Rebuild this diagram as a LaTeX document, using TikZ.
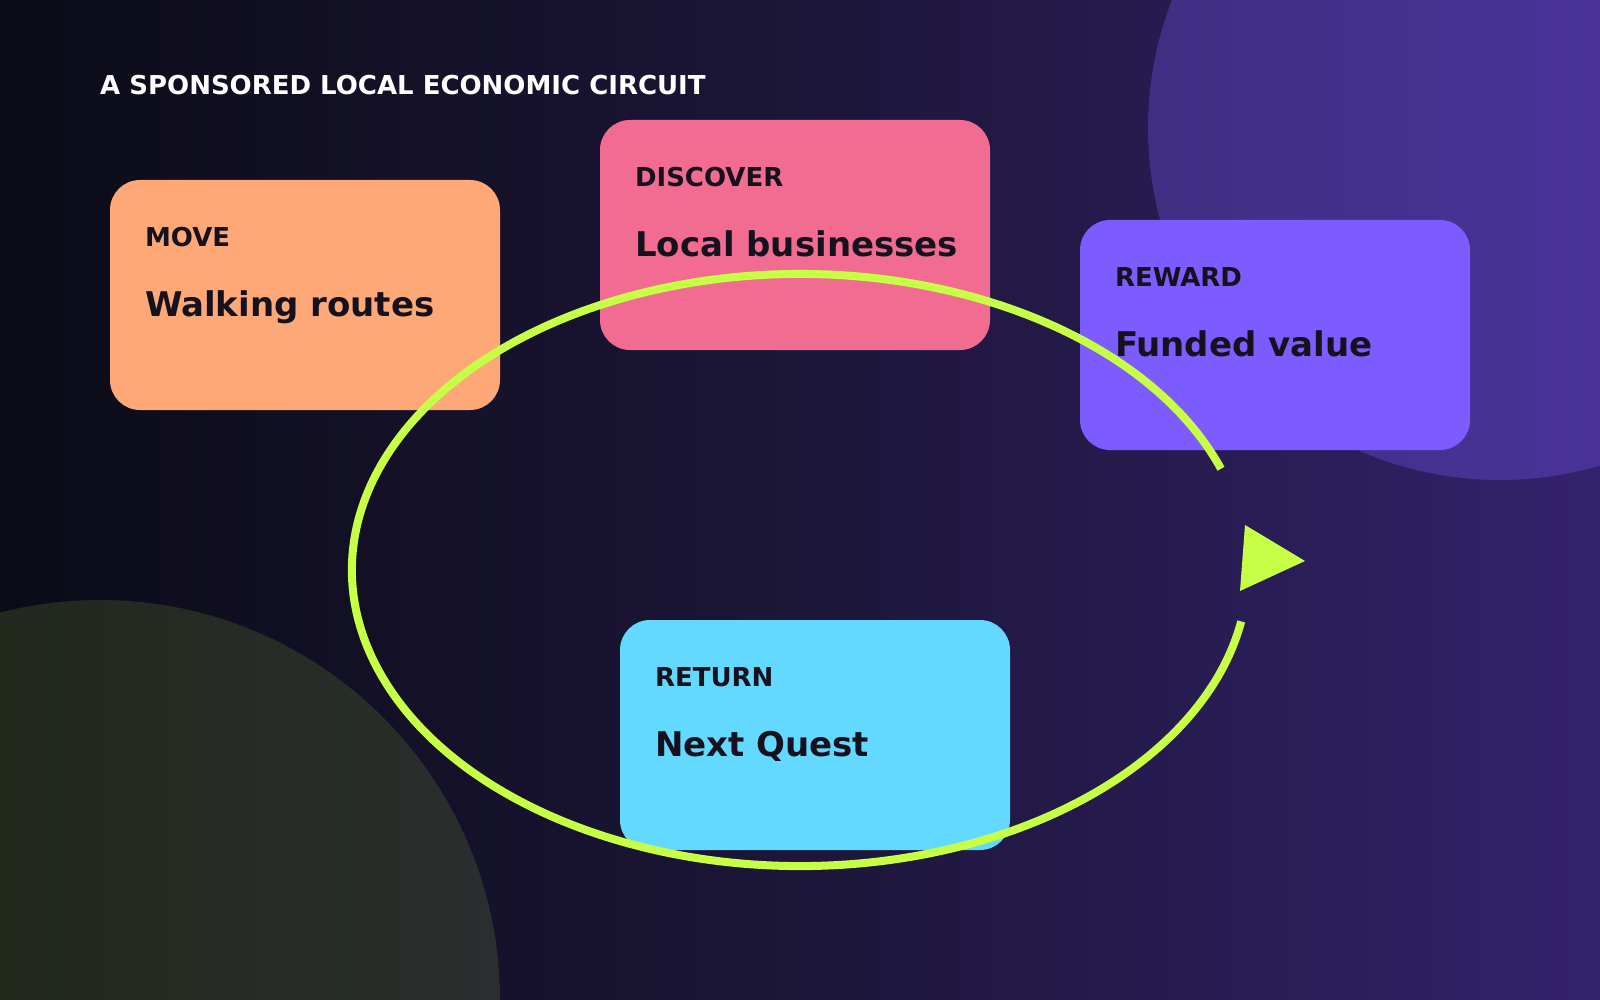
\documentclass[tikz,border=0pt]{standalone}
\usepackage{fontspec}
\setmainfont{DejaVu Sans}
\usetikzlibrary{calc}
\definecolor{bgl}{HTML}{0B0B17}
\definecolor{bgm}{HTML}{1C1638}
\definecolor{bgr}{HTML}{33226C}
\definecolor{lime}{HTML}{C6FF45}
\definecolor{violet}{HTML}{7C5CFF}
\definecolor{moveC}{HTML}{FFA877}
\definecolor{discC}{HTML}{F26C92}
\definecolor{rewC}{HTML}{7D5CFF}
\definecolor{retC}{HTML}{64D9FF}
\definecolor{ink}{HTML}{15121E}
\tikzset{
  card/.style={draw=none, rounded corners=30pt, minimum width=390pt, minimum height=230pt, inner sep=0pt},
  lbl/.style={anchor=base west, inner sep=0pt, text=ink, font=\fontsize{26}{30}\selectfont\bfseries},
  main/.style={anchor=base west, inner sep=0pt, text=ink, font=\fontsize{34}{40}\selectfont\bfseries},
  ttl/.style={anchor=base west, inner sep=0pt, text=white, font=\fontsize{26}{30}\selectfont\bfseries},
  loopline/.style={draw=lime, line width=8pt},
}
\begin{document}
\begin{tikzpicture}[x=1pt,y=-1pt]
\useasboundingbox (0,0) rectangle (1600,1000);
\begin{scope}
\clip (0,0) rectangle (1600,1000);
\shade[left color=bgl, right color=bgr, middle color=bgm] (0,0) rectangle (1600,1000);
\fill[violet, opacity=0.3] (1500,128) circle[radius=352];
\fill[lime, opacity=0.12] (100,1000) circle[radius=400];
\end{scope}
\node[ttl] (title) at (100,95) {A SPONSORED LOCAL ECONOMIC CIRCUIT};
\node[card, fill=moveC] (move) at (305,295) {};
\node[card, fill=discC] (disc) at (795,235) {};
\node[card, fill=rewC] (rew) at (1275,335) {};
\node[card, fill=retC] (ret) at (815,735) {};
\node[lbl] (moveL) at ($(move.north west)+(35,67)$) {MOVE};
\node[main] (moveT) at ($(move.north west)+(35,137)$) {Walking routes};
\node[lbl] (discL) at ($(disc.north west)+(35,67)$) {DISCOVER};
\node[main] (discT) at ($(disc.north west)+(35,137)$) {Local businesses};
\node[lbl] (rewL) at ($(rew.north west)+(35,67)$) {REWARD};
\node[main] (rewT) at ($(rew.north west)+(35,137)$) {Funded value};
\node[lbl] (retL) at ($(ret.north west)+(35,67)$) {RETURN};
\node[main] (retT) at ($(ret.north west)+(35,137)$) {Next Quest};
\coordinate (c) at (800,570);
\draw[loopline] ($(c)+(-20:448 and 296)$) arc[start angle=-20, end angle=-350, x radius=448, y radius=296];
\coordinate (tipA) at (1245,525);
\coordinate (tipB) at (1305,561);
\coordinate (tipC) at (1240,591);
\fill[lime] (tipA) -- (tipB) -- (tipC) -- cycle;
\end{tikzpicture}
\end{document}
